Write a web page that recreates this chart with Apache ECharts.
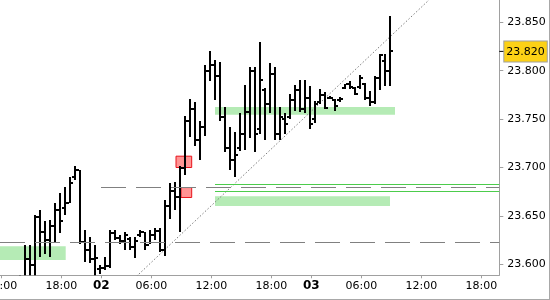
<!DOCTYPE html>
<html><head><meta charset="utf-8">
<script src="https://cdn.jsdelivr.net/npm/echarts@6/dist/echarts.min.js"></script>
<style>html,body{margin:0;padding:0;background:#fff}#c{width:550px;height:300px}</style>
</head><body><div id="c"></div>
<script>
// trading session hours shown each day (30-minute bars)
const sessionHours = [0,2,3,4,5,6,7,8,9,10,11,12,13,14,15,16,17,18,19,20,21];
const days = [{day:'01', fromHour:12}, {day:'02', fromHour:0}, {day:'03', fromHour:0}];
const slotCount = 100;

// OHLC bars, first bar at slot index firstBar
const firstBar = 4;
const opens = [23.579,23.587,23.605,23.599,23.649,23.633,23.625,23.640,23.656,23.658,
  23.663,23.690,23.697,23.623,23.615,23.605,23.595,23.596,23.598,23.632,
  23.627,23.624,23.626,23.618,23.630,23.633,23.620,23.630,23.634,23.615,
  23.660,23.676,23.670,23.700,23.748,23.760,23.728,23.742,23.800,23.806,
  23.795,23.752,23.720,23.708,23.720,23.735,23.757,23.800,23.740,23.780,
  23.766,23.797,23.735,23.750,23.752,23.770,23.780,23.760,23.772,23.750,
  23.768,23.775,23.772,23.770,23.770,23.782,23.786,23.782,23.783,23.786,
  23.772,23.768,23.793,23.810,23.800];
const highs = [23.589,23.620,23.620,23.651,23.656,23.645,23.646,23.663,23.674,23.680,
  23.690,23.702,23.697,23.635,23.628,23.620,23.599,23.608,23.635,23.635,
  23.630,23.633,23.628,23.628,23.635,23.633,23.635,23.637,23.637,23.666,
  23.684,23.685,23.702,23.753,23.771,23.768,23.748,23.806,23.820,23.811,
  23.809,23.763,23.742,23.737,23.756,23.785,23.804,23.804,23.830,23.782,
  23.808,23.804,23.763,23.756,23.776,23.785,23.790,23.790,23.784,23.769,
  23.781,23.778,23.774,23.771,23.773,23.786,23.789,23.783,23.796,23.787,
  23.779,23.795,23.817,23.817,23.857];
const lows = [23.575,23.580,23.580,23.575,23.608,23.611,23.608,23.622,23.632,23.651,
  23.663,23.687,23.621,23.602,23.601,23.588,23.590,23.594,23.596,23.625,
  23.621,23.615,23.615,23.606,23.628,23.615,23.621,23.625,23.613,23.609,
  23.647,23.656,23.633,23.692,23.732,23.722,23.708,23.733,23.789,23.770,
  23.748,23.716,23.697,23.690,23.717,23.718,23.730,23.716,23.735,23.728,
  23.756,23.728,23.728,23.735,23.750,23.758,23.757,23.756,23.740,23.746,
  23.766,23.760,23.771,23.758,23.768,23.781,23.781,23.775,23.781,23.770,
  23.764,23.766,23.780,23.784,23.784];
const closes = [23.587,23.605,23.599,23.649,23.633,23.625,23.640,23.656,23.645,23.663,
  23.684,23.697,23.623,23.615,23.605,23.606,23.596,23.598,23.632,23.627,
  23.624,23.630,23.618,23.624,23.633,23.620,23.630,23.634,23.615,23.660,
  23.676,23.670,23.700,23.748,23.760,23.728,23.742,23.800,23.806,23.795,
  23.752,23.720,23.708,23.713,23.735,23.757,23.800,23.735,23.790,23.766,
  23.797,23.735,23.752,23.745,23.770,23.780,23.760,23.772,23.745,23.766,
  23.775,23.762,23.772,23.764,23.771,23.786,23.783,23.776,23.793,23.772,
  23.768,23.793,23.816,23.800,23.820];

const yTicks = [23.600, 23.650, 23.700, 23.750, 23.800, 23.850];
const yRange = [23.5886, 23.8731];
const xRange = [-0.26, 99.6];
const lastPrice = 23.820;

// annotations (slot index, price)
const dashedLevels = [[19.94, 23.6793], [xRange[0], 23.6224]];
const greenLevels = [[42.74, 23.6824], [42.74, 23.6752]];
const greenZones = [[42.74, 77.74, 23.6703, 23.6603], [42.74, 78.74, 23.7624, 23.7544], [xRange[0], 12.88, 23.6186, 23.6044]];
const redBoxes = [[34.94, 38.08, 23.7117, 23.7000], [35.94, 38.08, 23.6793, 23.6690]];
const trendLine = [[27, 23.5873], [86, 23.8754]];

const categories = [];
for (const d of days) {
  for (const h of sessionHours) {
    if (h < d.fromHour) continue;
    const hh = String(h).padStart(2, '0');
    for (const m of ['00', '30']) {
      if (categories.length < slotCount) categories.push(d.day + ' ' + hh + ':' + m);
    }
  }
}
const xTickIdx = [];
categories.forEach((c, i) => {
  const t = c.split(' ')[1];
  const h = parseInt(t.slice(0, 2), 10);
  if (t.endsWith(':00') && h % 6 === 0) xTickIdx.push(i);
});

const barData = opens.map((o, i) => [firstBar + i, o, highs[i], lows[i], closes[i]]);

const FONT = 'DejaVu Sans';
const chart = echarts.init(document.getElementById('c'), null, {renderer: 'canvas'});
chart.setOption({
  animation: false,
  backgroundColor: '#fff',
  grid: {left: 0, right: 50.7, top: 0, bottom: 24.7, containLabel: false, outerBoundsMode: 'none'},
  xAxis: {
    type: 'value', min: xRange[0], max: xRange[1],
    splitLine: {show: false},
    axisLine: {show: true, onZero: false, lineStyle: {color: '#a0a0a0', width: 1}},
    axisTick: {show: true, customValues: xTickIdx, length: 3, lineStyle: {color: '#a0a0a0'}},
    axisLabel: {
      customValues: xTickIdx, margin: 5, color: '#000', fontSize: 11, fontFamily: FONT,
      formatter: v => {
        const c = categories[Math.round(v)];
        const [day, t] = c.split(' ');
        return t === '00:00' ? '{b|' + day + '}' : t;
      },
      rich: {b: {fontWeight: 'bold', fontSize: 12, fontFamily: FONT, color: '#000'}}
    }
  },
  yAxis: {
    type: 'value', position: 'right', min: yRange[0], max: yRange[1], scale: true,
    splitLine: {show: false},
    axisLine: {show: true, onZero: false, lineStyle: {color: '#a0a0a0', width: 1}},
    axisTick: {show: true, customValues: yTicks, length: 4, lineStyle: {color: '#a0a0a0'}},
    axisLabel: {customValues: yTicks, margin: 8, color: '#000', fontSize: 11, fontFamily: FONT,
      formatter: v => v.toFixed(3)}
  },
  graphic: [
    {type: 'line', shape: {x1: 0, y1: 299.5, x2: 550, y2: 299.5}, style: {stroke: '#a8a8a8', lineWidth: 1}, silent: true},
    {type: 'line', shape: {x1: 549.5, y1: 0, x2: 549.5, y2: 300}, style: {stroke: '#a8a8a8', lineWidth: 1}, silent: true}
  ],
  series: [
    {
      type: 'line', data: [], z: 1, clip: false, silent: true,
      markArea: {
        silent: true,
        data: greenZones.map(z => [
          {coord: [z[0], z[2]], itemStyle: {color: '#b5ebb5', borderWidth: 0}},
          {coord: [z[1], z[3]]}
        ]).concat(redBoxes.map(b => [
          {coord: [b[0], b[2]], itemStyle: {color: '#ff9494', borderColor: '#e8141c', borderWidth: 1}},
          {coord: [b[1], b[3]]}
        ]))
      },
      markLine: {
        silent: true, symbol: 'none', animation: false,
        label: {show: false},
        data: dashedLevels.map(l => [
          {coord: [l[0], l[1]], lineStyle: {color: '#808080', width: 1, type: [25, 10]}},
          {coord: [xRange[1], l[1]]}
        ]).concat(greenLevels.map(l => [
          {coord: [l[0], l[1]], lineStyle: {color: '#4ccc4c', width: 1, type: 'solid'}},
          {coord: [xRange[1], l[1]]}
        ]))
      }
    },
    {
      type: 'line', data: [], z: 5, clip: false, silent: true,
      markLine: {
        silent: true, symbol: 'none', animation: false,
        data: [[
          {coord: [xRange[1] - 0.02, lastPrice], lineStyle: {color: '#000', width: 1, type: 'solid'},
            label: {
              show: true, position: 'end', distance: 0,
              formatter: '{t|}{v|' + lastPrice.toFixed(3) + '}',
              rich: {
                t: {width: 5, height: 1, backgroundColor: '#000'},
                v: {color: '#000', fontSize: 11, fontFamily: FONT, backgroundColor: '#fcd116',
                  borderColor: '#a0a0a0', borderWidth: 1, padding: [5, 2, 4, 2]}
              }
            }},
          {coord: [xRange[1], lastPrice]}
        ]]
      }
    },
    {
      type: 'line', z: 2, clip: true, silent: true, symbol: 'none',
      data: trendLine,
      lineStyle: {color: '#7c7c7c', width: 1, type: [1.5, 2]}
    },
    {
      type: 'custom', z: 3, clip: true, silent: true,
      data: barData,
      encode: {x: 0, y: [1, 2, 3, 4]},
      renderItem: (params, api) => {
        const k = api.value(0);
        const pH = api.coord([k, api.value(2)]);
        const pL = api.coord([k, api.value(3)]);
        const pO = api.coord([k, api.value(1)]);
        const pC = api.coord([k, api.value(4)]);
        const cx = Math.round(pH[0]);
        const yH = Math.round(pH[1]), yL = Math.round(pL[1]);
        const style = {fill: '#000'};
        return {
          type: 'group',
          children: [
            {type: 'rect', shape: {x: cx - 2, y: yH, width: 2, height: Math.max(1, yL - yH)}, style},
            {type: 'rect', shape: {x: cx - 4, y: Math.round(pO[1]) - 1, width: 2, height: 2}, style},
            {type: 'rect', shape: {x: cx, y: Math.round(pC[1]) - 1, width: 2, height: 2}, style}
          ]
        };
      }
    }
  ]
});
</script></body></html>
